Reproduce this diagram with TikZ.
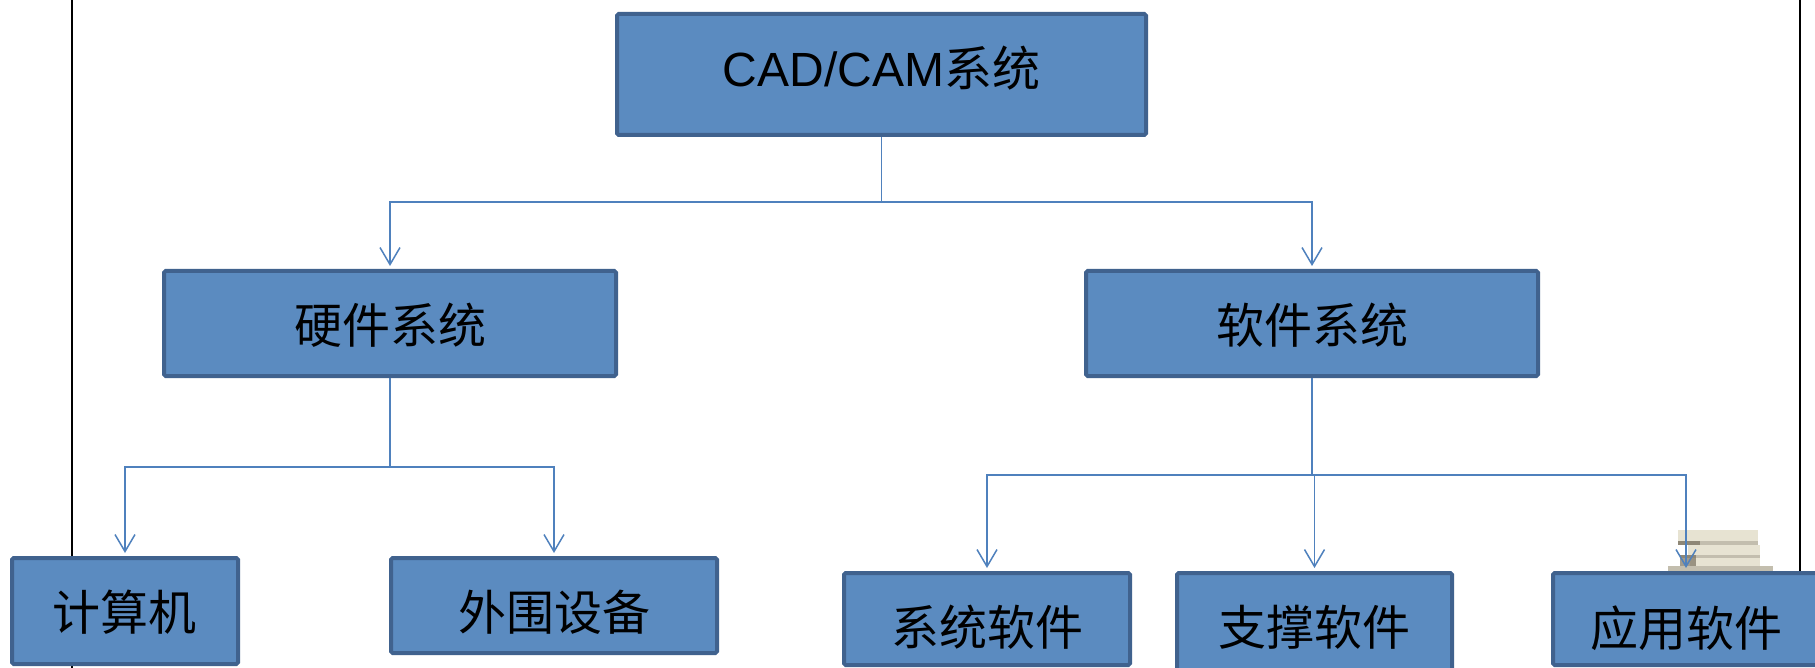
\documentclass[tikz,border=0pt]{standalone}
\usepackage{fontspec}
\setmainfont{Liberation Sans}
\newfontfamily\cjk{Noto Sans CJK SC}
\usetikzlibrary{arrows.meta}
\definecolor{boxfill}{RGB}{91,139,192}
\definecolor{boxline}{RGB}{64,98,142}
\definecolor{conncol}{RGB}{79,129,189}
\definecolor{bkA}{RGB}{222,216,192}
\definecolor{bkB}{RGB}{170,163,140}
\definecolor{bkC}{RGB}{120,113,95}
\begin{document}
\begin{tikzpicture}[x=0.5pt,y=-0.5pt,
  box/.style={draw=boxline, fill=boxfill, line width=2pt, rounded corners=0.8pt, inner sep=0pt},
  txt/.style={font=\fontsize{24pt}{28pt}\selectfont, inner sep=0pt, anchor=north, yshift=-17pt, text=black},
  conn/.style={draw=conncol, line width=0.75pt},
  arr/.style={conn, -{Straight Barb[length=8.5pt,width=10pt,line width=0.75pt]}, shorten >=1.5pt},
  frameline/.style={draw=black, line width=0.9pt}]
\useasboundingbox (0,0) rectangle (1815,668);
\fill[white] (0,0) rectangle (1815,668);
% page frame lines
\draw[frameline] (72,0) -- (72,668);
\draw[frameline] (1800,0) -- (1800,571);
% faded book-stack picture
\begin{scope}[opacity=0.7]
\fill[bkA] (1678,530) rectangle (1758,541);
\fill[bkB] (1678,541) rectangle (1758,545);
\fill[bkC] (1678,541) rectangle (1700,545);
\fill[bkA] (1688,545) rectangle (1760,555);
\fill[bkB] (1680,555) rectangle (1760,558);
\fill[bkA] (1690,558) rectangle (1760,566);
\fill[bkC] (1680,555) rectangle (1696,566);
\fill[bkB] (1668,566) rectangle (1773,571);
\end{scope}
% boxes
\node[box, minimum width=264.5pt, minimum height=60.5pt,
  label={[txt]north:CAD/CAM{\cjk 系统}}] (cad) at (881.5,74.5) {};
\node[box, minimum width=226pt, minimum height=52.5pt,
  label={[txt]north:{\cjk 硬件系统}}] (hw) at (390,323.5) {};
\node[box, minimum width=226pt, minimum height=52.5pt,
  label={[txt]north:{\cjk 软件系统}}] (sw) at (1312,323.5) {};
\node[box, minimum width=113pt, minimum height=53pt,
  label={[txt]north:{\cjk 计算机}}] (comp) at (125,611) {};
\node[box, minimum width=163pt, minimum height=47.5pt,
  label={[txt]north:{\cjk 外围设备}}] (peri) at (554,605.5) {};
\node[box, minimum width=143pt, minimum height=46pt,
  label={[txt]north:{\cjk 系统软件}}] (syssw) at (987,619) {};
\node[box, minimum width=137.5pt, minimum height=50pt,
  label={[txt]north:{\cjk 支撑软件}}] (supsw) at (1314.5,623) {};
\node[box, minimum width=133pt, minimum height=46pt,
  label={[txt]north:{\cjk 应用软件}}] (appsw) at (1686,619) {};
% connectors
\coordinate (b1) at (881.5,202);
\coordinate (b2) at (390,467);
\coordinate (b3) at (1312,475);
\draw[conn] (cad.south) -- (b1);
\draw[arr] (b1) -| (hw.north);
\draw[arr] (b1) -| (sw.north);
\draw[conn] (hw.south) -- (b2);
\draw[arr] (b2) -| (comp.north);
\draw[arr] (b2) -| (peri.north);
\draw[conn] (sw.south) -- (b3);
\draw[arr] (b3) -| (syssw.north);
\draw[arr] (b3) -| (supsw.north);
\draw[arr] (b3) -| (appsw.north);
\end{tikzpicture}
\end{document}
